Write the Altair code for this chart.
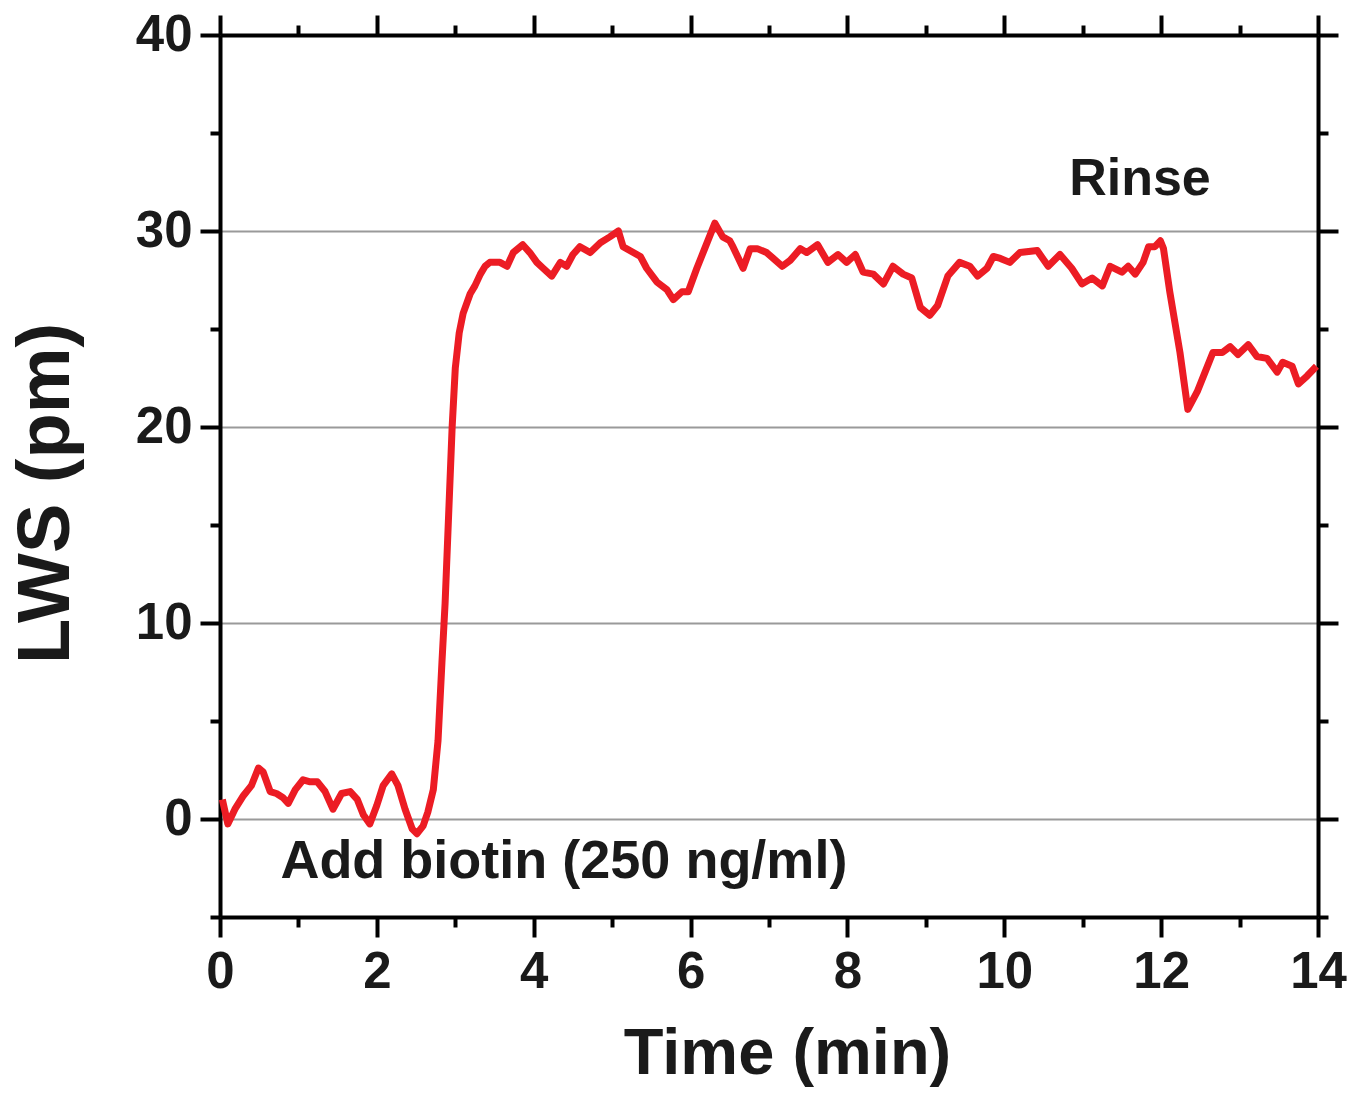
import altair as alt
import pandas as pd

# ---- data ----
time_min = [0.03, 0.10, 0.19, 0.30, 0.40, 0.49, 0.55, 0.64, 0.72, 0.80, 0.87, 0.96,
            1.06, 1.15, 1.24, 1.34, 1.44, 1.55, 1.66, 1.75, 1.83, 1.91, 2.00, 2.08,
            2.19, 2.27, 2.36, 2.45, 2.51, 2.59, 2.65, 2.72, 2.78, 2.83, 2.87, 2.92,
            2.96, 3.00, 3.05, 3.10, 3.19, 3.25, 3.32, 3.38, 3.44, 3.57, 3.66, 3.74,
            3.86, 3.95, 4.04, 4.12, 4.23, 4.34, 4.42, 4.50, 4.59, 4.72, 4.85, 4.97,
            5.08, 5.14, 5.27, 5.36, 5.44, 5.57, 5.70, 5.78, 5.89, 5.97, 6.08, 6.18,
            6.31, 6.41, 6.50, 6.54, 6.67, 6.76, 6.85, 6.97, 7.17, 7.27, 7.40, 7.48,
            7.62, 7.75, 7.88, 7.99, 8.10, 8.20, 8.33, 8.46, 8.58, 8.71, 8.82, 8.93,
            9.05, 9.15, 9.28, 9.43, 9.56, 9.66, 9.78, 9.86, 9.95, 10.07, 10.20, 10.42,
            10.56, 10.71, 10.86, 10.99, 11.12, 11.25, 11.35, 11.50, 11.58, 11.67, 11.77,
            11.84, 11.92, 11.99, 12.03, 12.11, 12.24, 12.34, 12.46, 12.56, 12.66, 12.78,
            12.88, 12.98, 13.11, 13.22, 13.35, 13.48, 13.55, 13.67, 13.75, 13.86, 13.98]
lws_pm = [1.0, -0.25, 0.5, 1.2, 1.7, 2.6, 2.4, 1.4, 1.3, 1.1, 0.8, 1.5,
          2.0, 1.9, 1.9, 1.4, 0.5, 1.3, 1.4, 1.0, 0.2, -0.25, 0.7, 1.7,
          2.3, 1.7, 0.5, -0.5, -0.75, -0.35, 0.35, 1.5, 4.0, 8.0, 11.0, 16.0,
          20.0, 23.0, 24.8, 25.8, 26.8, 27.2, 27.8, 28.2, 28.4, 28.4, 28.2, 28.9,
          29.3, 28.9, 28.4, 28.1, 27.7, 28.4, 28.2, 28.8, 29.2, 28.9, 29.4, 29.7,
          30.0, 29.2, 28.9, 28.7, 28.1, 27.4, 27.0, 26.5, 26.9, 26.9, 28.1, 29.1,
          30.4, 29.7, 29.5, 29.2, 28.1, 29.1, 29.1, 28.9, 28.2, 28.5, 29.1, 28.9,
          29.3, 28.4, 28.8, 28.4, 28.8, 27.9, 27.8, 27.3, 28.2, 27.8, 27.6, 26.1,
          25.7, 26.2, 27.7, 28.4, 28.2, 27.7, 28.1, 28.7, 28.6, 28.4, 28.9, 29.0,
          28.2, 28.8, 28.1, 27.3, 27.6, 27.2, 28.2, 27.9, 28.2, 27.8, 28.4,
          29.2, 29.2, 29.5, 29.1, 26.9, 23.8, 20.9, 21.8, 22.8, 23.8, 23.8,
          24.1, 23.7, 24.2, 23.6, 23.5, 22.8, 23.3, 23.1, 22.2, 22.6, 23.1]

x_ticks = list(range(0, 15))          # majors at even values, minors at odd
y_ticks = list(range(-5, 41, 5))      # majors at multiples of 10
x_domain = [0, 14]
y_domain = [-5, 40]

ann_text = ["Rinse", "Add biotin (250 ng/ml)"]
ann_x = [11.73, 0.77]
ann_y = [32.65, -2.2]
ann_align = ["center", "left"]

FONT = "Liberation Sans"
INK = "#1a1a1a"

df = pd.DataFrame({"t": time_min, "lws": lws_pm})
ann = pd.DataFrame({"text": ann_text, "x": ann_x, "y": ann_y, "align": ann_align})

x_tick_size = {"condition": {"test": "datum.value % 2 != 0", "value": 10}, "value": 20}
y_tick_size = {"condition": {"test": "datum.value % 10 != 0", "value": 10}, "value": 20}

common_axis = dict(
    domainColor="black", domainWidth=4, tickColor="black", tickWidth=4,
    labelFont=FONT, labelFontWeight="bold", labelColor=INK, labelFontSize=51,
    titleFont=FONT, titleFontWeight="bold", titleColor=INK,
)

x_bottom = alt.X(
    "t:Q", scale=alt.Scale(domain=x_domain, nice=False, zero=False),
    axis=alt.Axis(orient="bottom", values=x_ticks, tickSize=x_tick_size,
                  labelExpr="datum.value % 2 == 0 ? datum.label : ''",
                  labelPadding=10, title="Time (min)", titleFontSize=65,
                  titlePadding=25, titleX=567, grid=False, labelFlush=False, **common_axis),
)
y_left = alt.Y(
    "lws:Q", scale=alt.Scale(domain=y_domain, nice=False, zero=False),
    axis=alt.Axis(orient="left", values=y_ticks, tickSize=y_tick_size,
                  labelExpr="datum.value % 10 == 0 ? datum.label : ''",
                  labelPadding=8, title="LWS (pm)", titleFontSize=74,
                  titlePadding=51, titleY=458, grid=True, gridColor="#9a9a9a", gridWidth=2,
                  gridOpacity={"condition": {"test": "datum.value % 10 == 0 && datum.value < 40 && datum.value >= 0", "value": 1}, "value": 0},
                  labelFlush=False, **common_axis),
)

line = alt.Chart(df).mark_line(color="#ec1c24", strokeWidth=7, strokeJoin="round").encode(
    x=x_bottom, y=y_left
)

mirror = alt.Chart(df).mark_line(strokeOpacity=0).encode(
    x=alt.X("t:Q", scale=alt.Scale(domain=x_domain, nice=False, zero=False),
            axis=alt.Axis(orient="top", values=x_ticks, tickSize=x_tick_size,
                          labels=False, title=None, grid=False,
                          domainColor="black", domainWidth=4, tickColor="black", tickWidth=4)),
    y=alt.Y("lws:Q", scale=alt.Scale(domain=y_domain, nice=False, zero=False),
            axis=alt.Axis(orient="right", values=y_ticks, tickSize=y_tick_size,
                          labels=False, title=None, grid=False,
                          domainColor="black", domainWidth=4, tickColor="black", tickWidth=4)),
)


def text_layer(align, size):
    return alt.Chart(ann).transform_filter(
        alt.datum.align == align
    ).mark_text(font=FONT, fontWeight="bold", fontSize=size, color=INK,
                baseline="middle", align=align).encode(
        x=alt.X("x:Q", scale=alt.Scale(domain=x_domain, nice=False, zero=False), axis=None),
        y=alt.Y("y:Q", scale=alt.Scale(domain=y_domain, nice=False, zero=False), axis=None),
        text="text:N",
    )


chart = alt.layer(line, mirror, text_layer("center", 52), text_layer("left", 54)).resolve_scale(
    x="independent", y="independent"
).properties(
    width=1098, height=882,
    autosize=alt.AutoSizeParams(type="none"),
    padding={"left": 220, "top": 35, "right": 49, "bottom": 177},
    background="white",
).configure_view(stroke=None)

chart.save("out.html", embed_options={"renderer": "svg", "actions": False})
